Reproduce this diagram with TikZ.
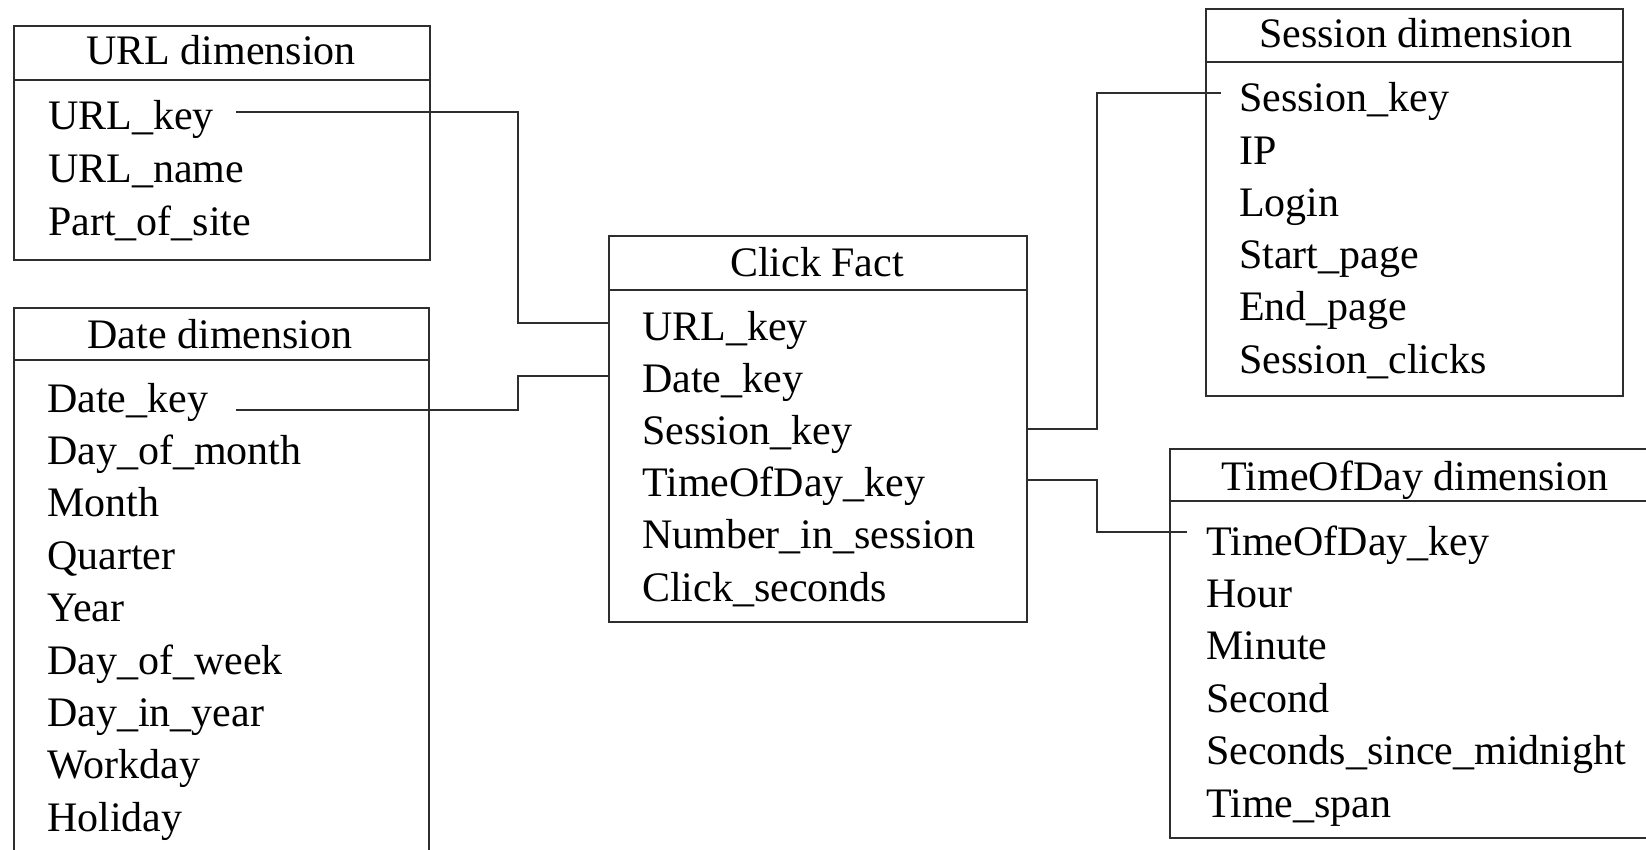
\documentclass[tikz,border=0pt]{standalone}
\usepackage{fontspec}
\setmainfont{Liberation Serif}
\newfontfamily\tabfamily{Liberation Serif}
\newcommand{\tabfont}{\tabfamily\fontsize{42}{50}\selectfont}
\colorlet{linecol}{black!82}
\begin{document}
\begin{tikzpicture}[x=1pt,y=-1pt,
  tbl/.style={draw=linecol, line width=1.7pt, rectangle, inner sep=0pt, anchor=north west},
  ttl/.style={anchor=base, inner sep=0pt, font=\tabfont},
  fld/.style={anchor=base west, inner sep=0pt, font=\tabfont},
  rulebar/.style={draw=linecol, line width=1.7pt},
  link/.style={draw=linecol, line width=1.5pt}]
\useasboundingbox (0,0) rectangle (1646,850);
\clip (0,0) rectangle (1646,850);

% URL dimension
\node[tbl, minimum width=416pt, minimum height=234pt] (url) at (13,25) {};
\draw[rulebar] (url.west |- 0,80) -- (url.east |- 0,80);
\node[ttl] (urlT) at (221,65) {URL dimension};
\node[fld] (u1) at (48,130) {URL\_key};
\node[fld] (u2) at (48,183) {URL\_name};
\node[fld] (u3) at (48,236) {Part\_of\_site};

% Date dimension (runs past the lower edge)
\node[tbl, minimum width=415pt, minimum height=563pt] (date) at (13,307) {};
\draw[rulebar] (date.west |- 0,360) -- (date.east |- 0,360);
\node[ttl] (dateT) at (220,348) {Date dimension};
\foreach \t [count=\i] in {Date\_key, Day\_of\_month, Month, Quarter, Year,
    Day\_of\_week, Day\_in\_year, Workday, Holiday}
  \node[fld] (d\i) at (47,{412+52.4*(\i-1)}) {\t};

% Click fact
\node[tbl, minimum width=418pt, minimum height=386pt] (fact) at (608,235) {};
\draw[rulebar] (fact.west |- 0,290) -- (fact.east |- 0,290);
\node[ttl] (factT) at (817,277) {Click Fact};
\foreach \t [count=\i] in {URL\_key, Date\_key, Session\_key, TimeOfDay\_key,
    Number\_in\_session, Click\_seconds}
  \node[fld] (f\i) at (642,{340+52.2*(\i-1)}) {\t};

% Session dimension
\node[tbl, minimum width=417pt, minimum height=387pt] (sess) at (1205,8) {};
\draw[rulebar] (sess.west |- 0,62) -- (sess.east |- 0,62);
\node[ttl] (sessT) at (1416,48) {Session dimension};
\foreach \t [count=\i] in {Session\_key, IP, Login, Start\_page, End\_page,
    Session\_clicks}
  \node[fld] (s\i) at (1239,{112+52.2*(\i-1)}) {\t};

% TimeOfDay dimension (runs past the right edge)
\node[tbl, minimum width=492pt, minimum height=389pt] (tod) at (1169,448) {};
\draw[rulebar] (tod.west |- 0,501) -- (tod.east |- 0,501);
\node[ttl] (todT) at (1415,490) {TimeOfDay dimension};
\foreach \t [count=\i] in {TimeOfDay\_key, Hour, Minute, Second,
    Seconds\_since\_midnight, Time\_span}
  \node[fld] (t\i) at (1206,{555+52.4*(\i-1)}) {\t};

% connector ports and bus lines
\coordinate (busL) at (518,0);
\coordinate (busR) at (1097,0);
\coordinate (uOut) at (236,112);
\coordinate (dOut) at (236,410);
\coordinate (fuIn) at (fact.west |- 0,323);
\coordinate (fdIn) at (fact.west |- 0,376);
\coordinate (fsOut) at (fact.east |- 0,429);
\coordinate (ftOut) at (fact.east |- 0,480);
\coordinate (sIn) at (1221,93);
\coordinate (tIn) at (1187,532);

\draw[link] (uOut) -- (uOut -| busL) |- (fuIn);
\draw[link] (dOut) -- (dOut -| busL) |- (fdIn);
\draw[link] (fsOut) -- (fsOut -| busR) |- (sIn);
\draw[link] (ftOut) -- (ftOut -| busR) |- (tIn);
\end{tikzpicture}
\end{document}
